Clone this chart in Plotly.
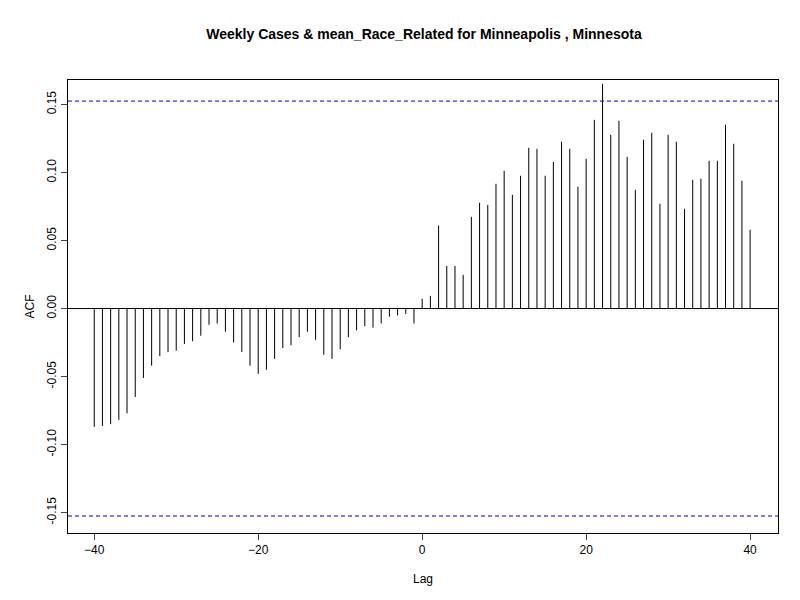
import plotly.graph_objects as go

lags = list(range(-40, 41))
acf = [-0.087, -0.0863, -0.085, -0.082, -0.077, -0.065, -0.051, -0.042, -0.035, -0.032,
       -0.031, -0.026, -0.024, -0.020, -0.012, -0.011, -0.017, -0.025, -0.032, -0.042,
       -0.048, -0.045, -0.037, -0.029, -0.027, -0.021, -0.017, -0.023, -0.034, -0.037,
       -0.030, -0.021, -0.016, -0.013, -0.014, -0.011, -0.006, -0.005, -0.004, -0.011,
       0.0071,
       0.0093, 0.061, 0.0314, 0.0314, 0.0248, 0.0674, 0.0777, 0.0762, 0.0917, 0.1012,
       0.0836, 0.0976, 0.1182, 0.1174, 0.0976, 0.1078, 0.1226, 0.1174, 0.0895, 0.1101,
       0.1387, 0.1652, 0.1277, 0.138, 0.1115, 0.0873, 0.1241, 0.1292, 0.077, 0.1277,
       0.1226, 0.0733, 0.0946, 0.0954, 0.1086, 0.1086, 0.1351, 0.1211, 0.0939, 0.0579]
ci = 0.1525

xs, ys = [], []
for l, v in zip(lags, acf):
    xs += [l, l, None]
    ys += [0, v, None]

fig = go.Figure()
fig.add_trace(go.Scatter(x=xs, y=ys, mode="lines", line=dict(color="black", width=1), hoverinfo="skip"))
fig.add_hline(y=0, line=dict(color="black", width=1))
for c in (ci, -ci):
    fig.add_hline(y=c, line=dict(color="#0000cc", width=1, dash="4px,3px"))

fig.update_layout(
    width=800, height=600, paper_bgcolor="white", plot_bgcolor="white",
    showlegend=False, margin=dict(l=60, r=30, t=72, b=75, autoexpand=False),
    font=dict(family="Liberation Sans, Arial", size=12, color="black"),
    title=dict(text="<b>Weekly Cases & mean_Race_Related for Minneapolis , Minnesota</b>",
               x=0.52, xanchor="center", y=0.957, yanchor="middle", font=dict(size=14)),
)
fig.update_xaxes(range=[-43.2, 43.4], tickvals=[-40, -20, 0, 20, 40], ticks="outside", ticklen=6,
                 showgrid=False, zeroline=False, showline=True, mirror=True, linecolor="black",
                 automargin=False, title=dict(text="Lag", standoff=18, font=dict(size=12)))
fig.update_yaxes(range=[-0.165, 0.168], tickvals=[-0.15, -0.10, -0.05, 0, 0.05, 0.10, 0.15],
                 ticktext=["-0.15", "-0.10", "-0.05", "0.00", "0.05", "0.10", "0.15"],
                 tickangle=-90, ticks="outside", ticklen=6, showgrid=False, zeroline=False,
                 showline=True, mirror=True, linecolor="black", automargin=False,
                 title=dict(text="ACF", standoff=8, font=dict(size=12)))
fig.write_html("out.html")
